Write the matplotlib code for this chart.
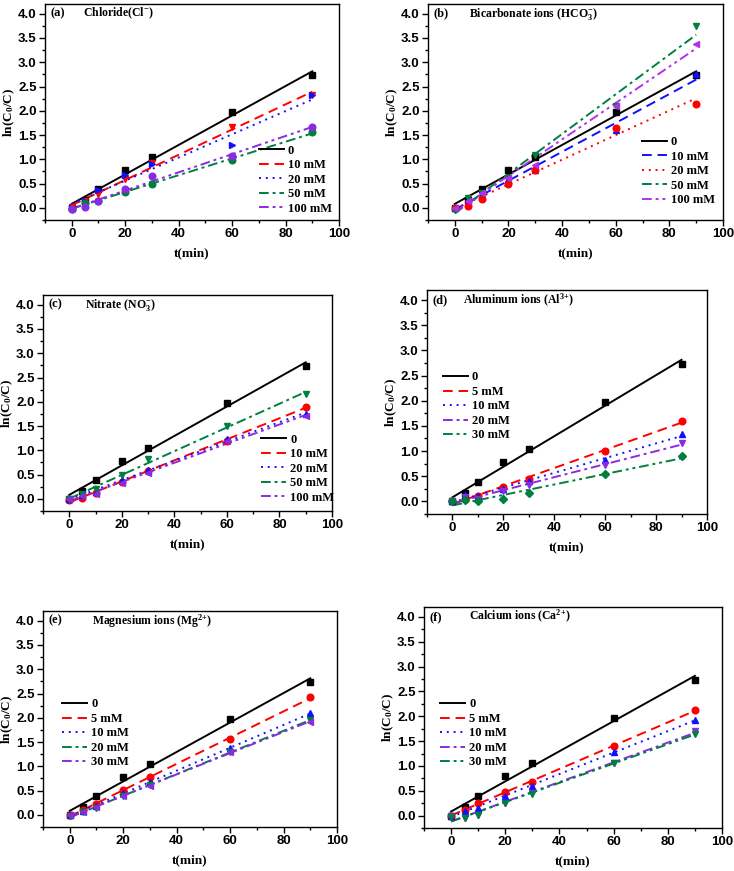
import numpy as np
import matplotlib
matplotlib.use("Agg")
import matplotlib.pyplot as plt
from matplotlib.ticker import MultipleLocator

plt.rcParams['mathtext.default'] = 'regular'

# time points (min)
t = [0, 5, 10, 20, 30, 60, 90]
# ln(C0/C), no added ion
control = [0, 0.17, 0.39, 0.79, 1.05, 1.97, 2.73]

# (a) chloride
cl_10 = [0.02, 0.15, 0.28, 0.60, 0.93, 1.66, 2.33]
cl_20 = [0.00, 0.15, 0.37, 0.68, 0.90, 1.29, 2.32]
cl_50 = [-0.02, 0.10, 0.14, 0.33, 0.50, 0.98, 1.56]
cl_100 = [-0.02, 0.02, 0.14, 0.39, 0.66, 1.06, 1.66]

# (b) bicarbonate
hco3_10 = [0.00, 0.15, 0.27, 0.60, 0.77, 1.60, 2.76]
hco3_20 = [0.00, 0.03, 0.19, 0.50, 0.78, 1.65, 2.15]
hco3_50 = [-0.05, 0.20, 0.30, 0.62, 1.08, 2.10, 3.75]
hco3_100 = [0.00, 0.15, 0.30, 0.62, 0.88, 2.10, 3.38]

# (c) nitrate
no3_10 = [-0.02, 0.02, 0.12, 0.35, 0.58, 1.20, 1.90]
no3_20 = [0.00, 0.08, 0.15, 0.38, 0.60, 1.24, 1.74]
no3_50 = [0.00, 0.10, 0.20, 0.50, 0.83, 1.50, 2.16]
no3_100 = [0.00, 0.05, 0.10, 0.33, 0.54, 1.20, 1.70]

# (d) aluminum
al_5 = [0.00, 0.05, 0.10, 0.28, 0.45, 1.00, 1.60]
al_10 = [0.00, 0.12, 0.10, 0.24, 0.40, 0.82, 1.34]
al_20 = [0.00, 0.08, 0.05, 0.20, 0.32, 0.72, 1.16]
al_30 = [0.00, 0.02, 0.01, 0.05, 0.16, 0.54, 0.90]

# (e) magnesium
mg_5 = [0.00, 0.10, 0.22, 0.51, 0.78, 1.57, 2.42]
mg_10 = [0.00, 0.07, 0.18, 0.45, 0.68, 1.38, 2.09]
mg_20 = [-0.02, 0.05, 0.15, 0.38, 0.62, 1.30, 1.95]
mg_30 = [0.00, 0.05, 0.16, 0.38, 0.60, 1.30, 1.92]

# (f) calcium
ca_5 = [0.00, 0.12, 0.25, 0.48, 0.68, 1.40, 2.12]
ca_10 = [0.00, 0.10, 0.15, 0.40, 0.60, 1.28, 1.92]
ca_20 = [0.00, -0.04, 0.02, 0.25, 0.45, 1.06, 1.70]
ca_30 = [-0.02, -0.05, 0.02, 0.26, 0.44, 1.05, 1.65]

labels_anion = ['0', '10 mM', '20 mM', '50 mM', '100 mM']
labels_cation = ['0', '5 mM', '10 mM', '20 mM', '30 mM']

RED, BLUE, GREEN, PURPLE, BLACK = '#ff0000', '#1010ff', '#007f3f', '#8a2be2', '#000000'
MAGENTA = '#b030f0'
SOLID = '-'
DASH = (0, (5, 3))
DOT = (0, (1, 2.5))
DASHDOT = (0, (5, 2, 1.5, 2))
DASHDOTDOT = (0, (5, 2, 1.5, 2, 1.5, 2))

W, H = 734, 871

panels = [
    dict(box=(45, 4, 339, 220), tag='(a)', title='Chloride(Cl$^{-}$)', tx=0.13,
         series=[control, cl_10, cl_20, cl_50, cl_100], labels=labels_anion,
         colors=[BLACK, RED, BLUE, GREEN, PURPLE],
         styles=[SOLID, DASH, DOT, DASHDOT, DASHDOTDOT],
         markers=['s', 'v', '>', 'o', 'o'],
         leg=dict(loc='lower right', bbox_to_anchor=(1.0, -0.01))),
    dict(box=(428, 4, 723, 220), tag='(b)', title='Bicarbonate ions (HCO$_3^{-}$)', tx=0.14,
         series=[control, hco3_10, hco3_20, hco3_50, hco3_100], labels=labels_anion,
         colors=[BLACK, BLUE, RED, GREEN, MAGENTA],
         styles=[SOLID, DASH, DOT, DASHDOT, DASHDOTDOT],
         markers=['s', '^', 'o', 'v', '<'],
         leg=dict(loc='lower left', bbox_to_anchor=(0.70, 0.03))),
    dict(box=(43, 295, 332, 511), tag='(c)', title='Nitrate (NO$_3^{-}$)', tx=0.145,
         series=[control, no3_10, no3_20, no3_50, no3_100], labels=labels_anion,
         colors=[BLACK, RED, BLUE, GREEN, PURPLE],
         styles=[SOLID, DASH, DOT, DASHDOT, DASHDOTDOT],
         markers=['s', 'o', '^', 'v', '<'],
         leg=dict(loc='lower left', bbox_to_anchor=(0.73, 0.0))),
    dict(box=(427, 290, 707, 514), tag='(d)', title='Aluminum ions (Al$^{3{+}}$)', tx=0.13,
         series=[control, al_5, al_10, al_20, al_30], labels=labels_cation,
         colors=[BLACK, RED, BLUE, PURPLE, GREEN],
         styles=[SOLID, DASH, DOT, DASHDOT, DASHDOTDOT],
         markers=['s', 'o', '^', 'v', 'D'],
         leg=dict(loc='upper left', bbox_to_anchor=(0.03, 0.67))),
    dict(box=(43, 611, 337, 827), tag='(e)', title='Magnesium ions (Mg$^{2{+}}$)', tx=0.167,
         series=[control, mg_5, mg_10, mg_20, mg_30], labels=labels_cation,
         colors=[BLACK, RED, BLUE, GREEN, PURPLE],
         styles=[SOLID, DASH, DOT, DASHDOT, DASHDOTDOT],
         markers=['s', 'o', '^', 'v', '<'],
         leg=dict(loc='upper left', bbox_to_anchor=(0.04, 0.63))),
    dict(box=(424, 607, 722, 828), tag='(f)', title='Calcium ions (Ca$^{2{+}}$)', tx=0.15,
         series=[control, ca_5, ca_10, ca_20, ca_30], labels=labels_cation,
         colors=[BLACK, RED, BLUE, PURPLE, GREEN],
         styles=[SOLID, DASH, DOT, DASHDOT, DASHDOTDOT],
         markers=['s', 'o', '^', 'v', 'v'],
         leg=dict(loc='upper left', bbox_to_anchor=(0.03, 0.62))),
]

SERIF = 'Liberation Serif'
SANS = 'Liberation Sans'

fig = plt.figure(figsize=(W / 100, H / 100), dpi=100)
tt = np.array(t, dtype=float)

for p in panels:
    x0, y0, x1, y1 = p['box']
    ax = fig.add_axes([x0 / W, 1 - y1 / H, (x1 - x0) / W, (y1 - y0) / H])

    for ys, lab, c, ls, m in zip(p['series'], p['labels'], p['colors'], p['styles'], p['markers']):
        ys = np.array(ys)
        ms = 4.0 if m == 'D' else 4.8
        ax.plot(tt, ys, linestyle='none', marker=m, color=c, markersize=ms, zorder=3)
        k, b = np.polyfit(tt, ys, 1)
        fit_t = np.array([0, 90])
        ax.plot(fit_t, k * fit_t + b, linestyle=ls, color=c, lw=1.4, label=lab)

    ax.set_xlim(-10, 100)
    ax.set_ylim(-0.25, 4.2)
    ax.xaxis.set_major_locator(MultipleLocator(20))
    ax.xaxis.set_minor_locator(MultipleLocator(10))
    ax.yaxis.set_major_locator(MultipleLocator(0.5))
    ax.yaxis.set_minor_locator(MultipleLocator(0.25))
    ax.tick_params(which='both', direction='out', top=False, right=False, width=1.0, pad=2)
    ax.tick_params(which='major', length=4)
    ax.tick_params(which='minor', length=2.5)
    for lab in ax.get_xticklabels() + ax.get_yticklabels():
        lab.set_fontfamily(SANS)
        lab.set_fontweight('bold')
        lab.set_fontsize(9.5)
    for sp in ax.spines.values():
        sp.set_linewidth(1.0)

    ax.set_xlabel('t(min)', fontfamily=SERIF, fontweight='bold', fontsize=9.5, labelpad=5)
    ax.set_ylabel('ln(C$_0$/C)', fontfamily=SERIF, fontweight='bold', fontsize=9.5, labelpad=1)

    ax.text(0.02, 0.955, p['tag'], transform=ax.transAxes, fontfamily=SERIF,
            fontweight='bold', fontsize=9, va='center')
    ax.text(p['tx'], 0.955, p['title'], transform=ax.transAxes, fontfamily=SERIF,
            fontweight='bold', fontsize=8.5, va='center')

    ax.legend(frameon=False, handlelength=2.0, handletextpad=0.3, labelspacing=0.2,
              borderaxespad=0.2, prop=dict(family=SERIF, weight='bold', size=9),
              **p['leg'])

fig.savefig('out.png', dpi=100)
